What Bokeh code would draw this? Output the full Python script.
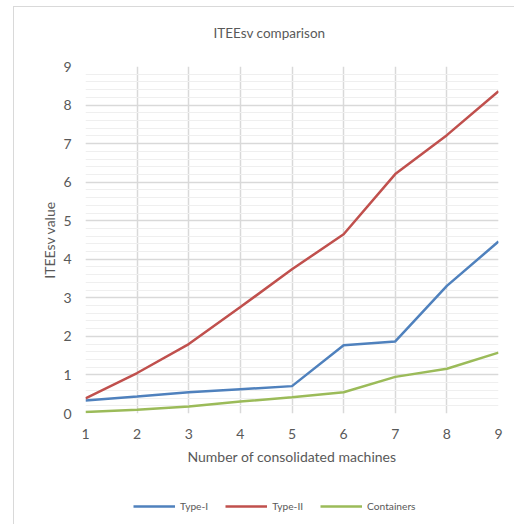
from bokeh.plotting import figure
from bokeh.layouts import column
from bokeh.models import FixedTicker, Legend, LegendItem
from bokeh.embed import file_html
from bokeh.resources import INLINE

machines = [1, 2, 3, 4, 5, 6, 7, 8, 9]
type1 = [0.34, 0.44, 0.55, 0.63, 0.71, 1.77, 1.87, 3.31, 4.46]
type2 = [0.39, 1.05, 1.80, 2.76, 3.74, 4.65, 6.21, 7.22, 8.36]
containers = [0.04, 0.10, 0.18, 0.31, 0.42, 0.55, 0.95, 1.16, 1.58]
series_names = ["Type-I", "Type-II", "Containers"]
series_colors = ["#4F81BD", "#C0504D", "#9BBB59"]
y_ticks = [0, 1, 2, 3, 4, 5, 6, 7, 8, 9]
y_minor = [round(i * 0.2, 1) for i in range(46)]

FONT = "Lato"
TXT = "#595959"
W = 500


def strip(height, title=None):
    f = figure(width=W, height=height, x_range=(100, 101), y_range=(0, 1),
               output_backend="svg", toolbar_location=None,
               x_axis_type=None, y_axis_type=None, title=title,
               min_border_left=0, min_border_right=0, min_border_top=0, min_border_bottom=0)
    f.outline_line_color = None
    f.grid.visible = False
    return f


# title strip
p0 = strip(51, "ITEEsv comparison")
p0.title.align = "left"
p0.title.offset = 128
p0.title.text_font = FONT
p0.title.text_font_style = "normal"
p0.title.text_font_size = "13.5px"
p0.title.text_color = TXT
p0.title.standoff = 30

# main chart
p = figure(width=W, height=431, x_range=(1, 9), y_range=(0, 9),
           output_backend="svg", toolbar_location=None,
           min_border_left=71, min_border_right=16, min_border_top=8, min_border_bottom=76)
p.outline_line_color = None
p.background_fill_color = "white"
p.border_fill_color = "white"

p.xaxis.ticker = FixedTicker(ticks=machines)
p.yaxis.ticker = FixedTicker(ticks=y_ticks, minor_ticks=y_minor)
for ax in (p.xaxis[0], p.yaxis[0]):
    ax.axis_line_color = None
    ax.major_tick_line_color = None
    ax.minor_tick_line_color = None
    ax.major_tick_out = 0
    ax.minor_tick_out = 0
    ax.major_label_text_font = FONT
    ax.major_label_text_font_size = "14px"
    ax.major_label_text_color = TXT
    ax.axis_label_text_font = FONT
    ax.axis_label_text_font_size = "14px"
    ax.axis_label_text_font_style = "normal"
    ax.axis_label_text_color = TXT
p.xaxis.axis_label = "Number of consolidated machines"
p.yaxis.axis_label = "ITEEsv value"
p.xaxis.major_label_standoff = 15
p.xaxis.axis_label_standoff = 6
p.yaxis.major_label_standoff = 14
p.yaxis.axis_label_standoff = 2

p.xgrid.grid_line_color = "#d9d9d9"
p.xgrid.grid_line_width = 1.5
p.ygrid.grid_line_color = "#d9d9d9"
p.ygrid.grid_line_width = 1.5
p.ygrid.minor_grid_line_color = "#efefef"
p.ygrid.minor_grid_line_width = 1.2

for ys, c in zip([type1, type2, containers], series_colors):
    p.line(machines, ys, line_color=c, line_width=2.5)

# legend strip below the chart (key renderers lie outside its visible range)
p2 = strip(35)
items = []
for name, c, ys in zip(series_names, series_colors, [type1, type2, containers]):
    r = p2.line(machines, ys, line_color=c, line_width=2.5)
    items.append(LegendItem(label=name, renderers=[r]))
legend = Legend(items=items, orientation="horizontal", location=(48, 12),
                label_text_font=FONT, label_text_font_size="10.2px", label_text_color=TXT,
                glyph_width=42, glyph_height=10, label_standoff=5, spacing=17,
                border_line_color=None, background_fill_alpha=0,
                padding=2, margin=0)
p2.add_layout(legend)

layout = column(p0, p, p2, spacing=0)
layout.styles = {"margin-left": "13px", "margin-top": "6px",
                 "border-left": "1.5px solid #d9d9d9", "border-top": "1.5px solid #d9d9d9"}

open("out.html", "w").write(file_html(layout, INLINE))
